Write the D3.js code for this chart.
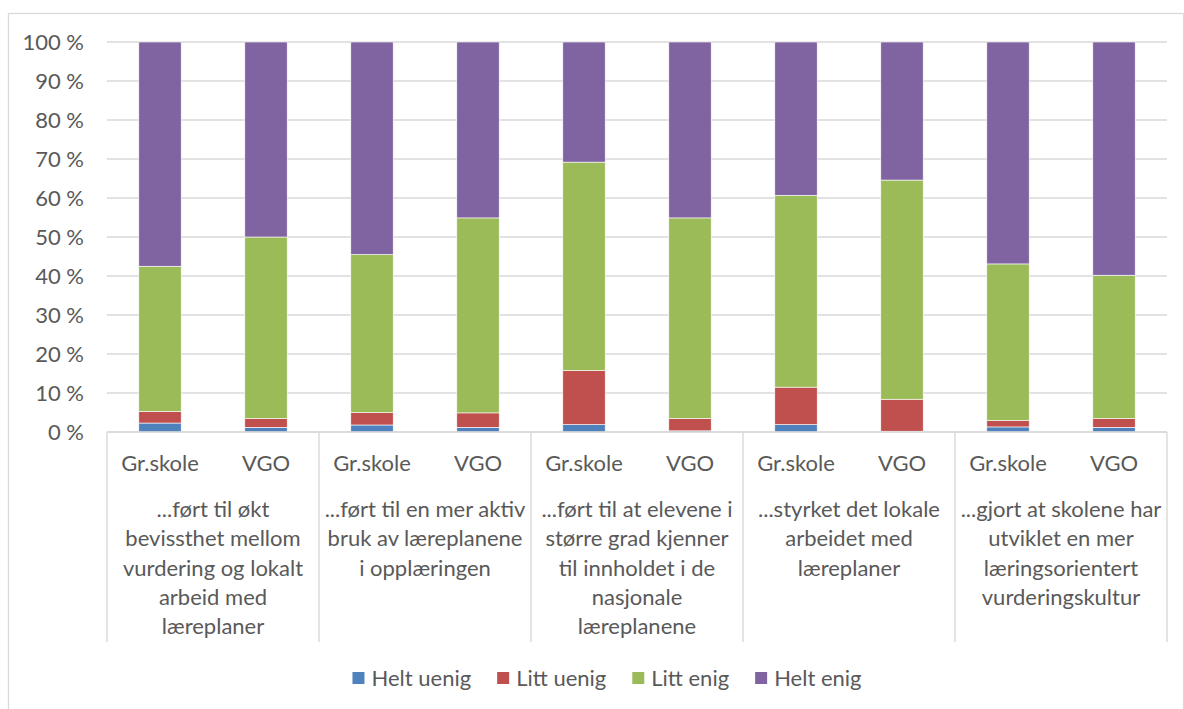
<!DOCTYPE html>
<html>
<head>
<meta charset="utf-8">
<script src="https://cdn.jsdelivr.net/npm/d3@7"></script>
<style>
    body { margin: 0; background: #fff; }
    svg { display: block; font-family: Lato, "Open Sans", sans-serif; }
</style>
</head>
<body>
<div id="chart"></div>
<script>
// categories (each label split in lines as in the picture)
const categories = [
    ["...ført til økt", "bevissthet mellom", "vurdering og lokalt", "arbeid med", "læreplaner"],
    ["...ført til en mer aktiv", "bruk av læreplanene", "i opplæringen"],
    ["...ført til at elevene i", "større grad kjenner", "til innholdet i de", "nasjonale", "læreplanene"],
    ["...styrket det lokale", "arbeidet med", "læreplaner"],
    ["...gjort at skolene har", "utviklet en mer", "læringsorientert", "vurderingskultur"]
];
const groups = ["Gr.skole", "VGO"];
const seriesNames = ["Helt uenig", "Litt uenig", "Litt enig", "Helt enig"];
const seriesColors = ["#4F81BD", "#C0504D", "#9BBB59", "#8064A2"];

// percent per bar, order: cat1 Gr.skole, cat1 VGO, cat2 Gr.skole, ...
const heltUenig = [2.3, 1.2, 1.8, 1.2, 1.9, 0.3, 1.9, 0.2, 1.3, 1.2];
const littUenig = [3.0, 2.3, 3.2, 3.7, 13.9, 3.2, 9.6, 8.2, 1.7, 2.3];
const littEnig  = [37.2, 46.5, 40.5, 50.0, 53.4, 51.4, 49.2, 56.2, 40.1, 36.7];
const heltEnig  = [57.5, 50.0, 54.5, 45.1, 30.8, 45.1, 39.3, 35.4, 56.9, 59.8];

const yTicks = [0, 10, 20, 30, 40, 50, 60, 70, 80, 90, 100];

const width = 1184, height = 709;
const margin = { top: 42, right: 17, bottom: 277, left: 107 };
const textColor = "#595959";
const lineColor = "#D9D9D9";
const fontSize = "22px";

const svg = d3.select("#chart").append("svg")
    .attr("width", width)
    .attr("height", height);

// chart border
svg.append("rect")
    .attr("x", 8.5).attr("y", 13.5)
    .attr("width", 1175).attr("height", 720)
    .attr("fill", "none")
    .attr("stroke", lineColor)
    .attr("stroke-width", 1.3);

const x0 = d3.scaleBand()
    .domain(d3.range(categories.length))
    .range([margin.left, width - margin.right]);

const x1 = d3.scaleBand()
    .domain(groups)
    .range([0, x0.bandwidth()])
    .paddingInner(0.6)
    .paddingOuter(0.3);

const y = d3.scaleLinear()
    .domain([0, 100])
    .range([height - margin.bottom, margin.top]);

// rows for the stack
const rows = [];
categories.forEach((c, ci) => {
    groups.forEach((g, gi) => {
        const i = ci * groups.length + gi;
        rows.push({
            cat: ci, group: g,
            "Helt uenig": heltUenig[i],
            "Litt uenig": littUenig[i],
            "Litt enig": littEnig[i],
            "Helt enig": heltEnig[i]
        });
    });
});

const color = d3.scaleOrdinal().domain(seriesNames).range(seriesColors);

// gridlines
svg.append("g")
    .selectAll("line")
    .data(yTicks)
    .join("line")
    .attr("x1", margin.left)
    .attr("x2", width - margin.right)
    .attr("y1", d => y(d))
    .attr("y2", d => y(d))
    .attr("stroke", lineColor)
    .attr("stroke-width", 1.4);

// y labels
svg.append("g")
    .selectAll("text")
    .data(yTicks)
    .join("text")
    .attr("x", 84)
    .attr("y", d => y(d))
    .attr("dy", "0.36em")
    .attr("text-anchor", "end")
    .attr("fill", textColor)
    .style("font-size", fontSize)
    .text(d => d + " %");

// bars
const stacked = d3.stack().keys(seriesNames)(rows);

svg.append("g")
    .selectAll("g")
    .data(stacked)
    .join("g")
    .attr("fill", d => color(d.key))
    .selectAll("rect")
    .data(d => d)
    .join("rect")
    .attr("x", d => x0(d.data.cat) + x1(d.data.group))
    .attr("width", x1.bandwidth())
    .attr("y", d => y(d[1]))
    .attr("height", d => y(d[0]) - y(d[1]))
    .attr("stroke", "#fff")
    .attr("stroke-width", 0.6);

// category axis: baseline and separators
const axisY = y(0);
svg.append("line")
    .attr("x1", margin.left).attr("x2", width - margin.right)
    .attr("y1", axisY).attr("y2", axisY)
    .attr("stroke", lineColor).attr("stroke-width", 1.4);

const sepX = d3.range(categories.length + 1).map(i =>
    i < categories.length ? x0(i) : x0(i - 1) + x0.bandwidth());

svg.append("g")
    .selectAll("line")
    .data(sepX)
    .join("line")
    .attr("x1", d => d).attr("x2", d => d)
    .attr("y1", axisY).attr("y2", 642)
    .attr("stroke", lineColor)
    .attr("stroke-width", 1.4);

// group labels
svg.append("g")
    .selectAll("text")
    .data(rows)
    .join("text")
    .attr("x", d => x0(d.cat) + x1(d.group) + x1.bandwidth() / 2)
    .attr("y", 463)
    .attr("dy", "0.36em")
    .attr("text-anchor", "middle")
    .attr("fill", textColor)
    .style("font-size", fontSize)
    .text(d => d.group);

// category labels
const catText = svg.append("g")
    .selectAll("text")
    .data(categories)
    .join("text")
    .attr("text-anchor", "middle")
    .attr("fill", textColor)
    .style("font-size", fontSize);

catText.selectAll("tspan")
    .data((d, i) => d.map(line => ({ line, i })))
    .join("tspan")
    .attr("x", d => x0(d.i) + x0.bandwidth() / 2)
    .attr("y", (d, j) => 509 + j * 29.3)
    .attr("dy", "0.36em")
    .text(d => d.line);

// legend
const legend = svg.append("g");
const items = legend.selectAll("g")
    .data(seriesNames)
    .join("g");

items.append("rect")
    .attr("width", 12).attr("height", 12)
    .attr("y", -6)
    .attr("fill", d => color(d));

items.append("text")
    .attr("x", 19)
    .attr("dy", "0.36em")
    .attr("fill", textColor)
    .style("font-size", fontSize)
    .text(d => d);

let offset = 0;
items.each(function () {
    const w = this.querySelector("text").getComputedTextLength();
    d3.select(this).attr("transform", `translate(${offset},0)`);
    offset += 19 + w + 26;
});
const legendWidth = offset - 26;
legend.attr("transform", `translate(${607 - legendWidth / 2},678)`);
</script>
</body>
</html>
